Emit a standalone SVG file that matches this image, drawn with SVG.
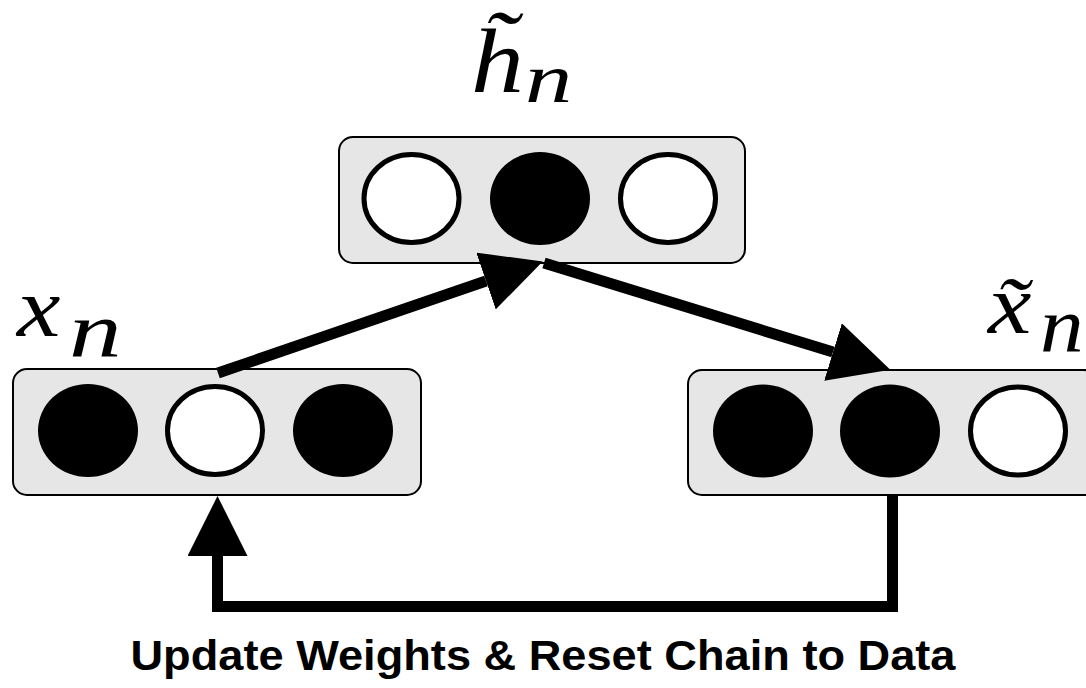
<svg xmlns="http://www.w3.org/2000/svg" width="1086" height="688" viewBox="0 0 1086 688">
<style>
.box{fill:#e6e6e6;stroke:#000;stroke-width:2}
.on{fill:#000}
.off{fill:#fff;stroke:#000;stroke-width:5}
.math{font-family:"Liberation Serif","Times New Roman",serif;font-style:italic;fill:#000}
.conn{fill:none;stroke:#000;stroke-width:11;stroke-linejoin:miter}
.cap{font-family:"Liberation Sans",Arial,sans-serif;font-weight:bold;font-size:42px;fill:#000;text-anchor:middle}
</style>
<defs>
<marker id="ah" markerUnits="userSpaceOnUse" markerWidth="60" markerHeight="60" refX="0" refY="30" orient="auto" viewBox="0 0 60 60">
<path d="M0,0 L60,30 L0,60 Z" fill="#000"/>
</marker>
</defs>
<rect width="1086" height="688" fill="#fff"/>
<g id="hidden">
<rect class="box" x="339" y="137" width="406" height="126" rx="14"/>
<ellipse class="off" cx="411.5" cy="198.5" rx="47.5" ry="44"/>
<ellipse class="on" cx="540" cy="198.5" rx="50" ry="46.5"/>
<ellipse class="off" cx="668" cy="198.5" rx="47.5" ry="44"/>
<text class="math" transform="translate(471,92) scale(1.15,1)" font-size="92">h̃</text>
<text class="math" transform="translate(525,102) scale(1.35,1)" font-size="70">n</text>
</g>
<g id="visible">
<rect class="box" x="13" y="369" width="408" height="126" rx="14"/>
<ellipse class="on" cx="88" cy="430.5" rx="50" ry="46.5"/>
<ellipse class="off" cx="215" cy="430.5" rx="47.5" ry="44"/>
<ellipse class="on" cx="343" cy="430.5" rx="50" ry="46.5"/>
<text class="math" transform="translate(17,336) scale(1.15,1)" font-size="85">x</text>
<text class="math" transform="translate(69,357) scale(1.35,1)" font-size="78">n</text>
</g>
<g id="reconstruction">
<rect class="box" x="688" y="370" width="410" height="125" rx="14"/>
<ellipse class="on" cx="763" cy="431" rx="50" ry="46.5"/>
<ellipse class="on" cx="890" cy="431" rx="50" ry="46.5"/>
<ellipse class="off" cx="1018" cy="431" rx="47.5" ry="44"/>
<text class="math" transform="translate(988,333) scale(1.15,1)" font-size="85">x̃</text>
<text class="math" transform="translate(1040,352) scale(1.12,1)" font-size="78">n</text>
</g>
<g id="connectors">
<path class="conn" d="M218,373 L486,281" marker-end="url(#ah)"/>
<path class="conn" d="M544,263 L833,352" marker-end="url(#ah)"/>
<path class="conn" d="M892.5,495 L892.5,606.5 L217.5,606.5 L217.5,556" marker-end="url(#ah)"/>
</g>
<text class="cap" x="543" y="670" textLength="825" lengthAdjust="spacingAndGlyphs">Update Weights &amp; Reset Chain to Data</text>
</svg>
